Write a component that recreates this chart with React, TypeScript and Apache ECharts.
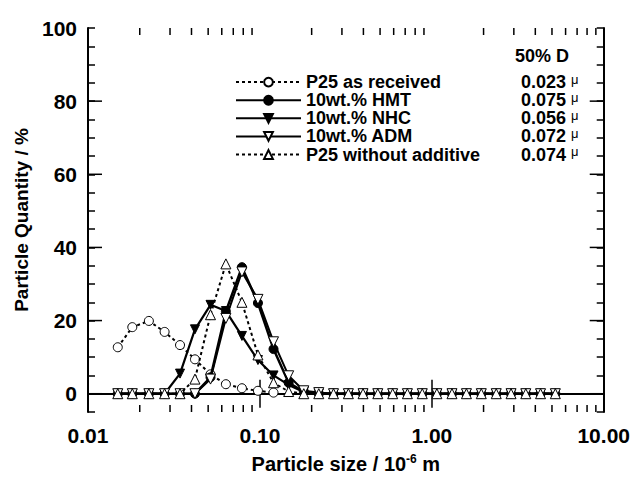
import React, { useEffect, useRef } from "react";
import * as echarts from "echarts";

// Particle size classes (10^-6 m)
const sizes = [
  0.0149, 0.0181, 0.0226, 0.0279, 0.0343, 0.0419, 0.0516, 0.0634, 0.0786, 0.0974,
  0.120, 0.147, 0.180, 0.220, 0.268, 0.327, 0.398, 0.485, 0.592, 0.721,
  0.880, 1.07, 1.31, 1.59, 1.94, 2.37, 2.89, 3.52, 4.29, 5.23,
];

const seriesNames = [
  "P25 as received",
  "10wt.% HMT",
  "10wt.% NHC",
  "10wt.% ADM",
  "P25 without additive",
];

const d50 = ["0.023", "0.075", "0.056", "0.072", "0.074"];

const asReceived = [12.7, 18.2, 19.9, 16.9, 13.3, 9.4, 5.3, 2.6, 1.5, 0.8, 0.3];
const hmt = [0, 0, 0, 0, 0, 0, 4.5, 22.5, 34.6, 24.8, 12.2, 3.0, 0.6, 0, 0, 0, 0, 0, 0, 0, 0, 0, 0, 0, 0, 0, 0, 0, 0, 0];
const nhc = [0, 0, 0, 0, 5.5, 17.6, 24.3, 22.6, 15.8, 9.2, 5.0, 2.4, 0.5, 0, 0, 0, 0, 0, 0, 0, 0, 0, 0, 0, 0, 0, 0, 0, 0, 0];
const adm = [0, 0, 0, 0, 0, 0, 4.0, 20.6, 33.3, 25.8, 14.2, 4.9, 0.8, 0.3, 0, 0, 0, 0, 0, 0, 0, 0, 0, 0, 0, 0, 0, 0, 0, 0];
const withoutAdditive = [0, 0, 0, 0, 0, 4.0, 21.6, 35.5, 25.0, 10.6, 3.0, 0.6, 0, 0, 0, 0, 0, 0, 0, 0, 0, 0, 0, 0, 0, 0, 0, 0, 0, 0];

const xMinorTicks = [
  0.02, 0.03, 0.04, 0.05, 0.06, 0.07, 0.08, 0.09,
  0.2, 0.3, 0.4, 0.5, 0.6, 0.7, 0.8, 0.9,
  2, 3, 4, 5, 6, 7, 8, 9,
];
const yMajorTicks = [0, 20, 40, 60, 80];

const Y_MIN = -5;
const Y_MAX = 100;
const FONT = "'Liberation Sans', Arial, Helvetica, sans-serif";

const pairs = (vals: number[]) => vals.map((v, i) => [sizes[i], v]);

export default function App() {
  const ref = useRef<HTMLDivElement>(null);

  useEffect(() => {
    if (!ref.current) return;
    const chart = echarts.init(ref.current, undefined, { renderer: "svg" });

    const tickStyle = { stroke: "#000", lineWidth: 1.5 };

    const option: any = {
      animation: false,
      backgroundColor: "#fff",
      textStyle: { fontFamily: FONT },
      grid: { left: 88, right: 29, top: 28, bottom: 66 },
      xAxis: [
        {
          type: "log",
          logBase: 10,
          min: 0.01,
          max: 10,
          position: "bottom",
          axisLine: { show: true, lineStyle: { color: "#000", width: 2 } },
          axisTick: { show: true, inside: true, length: 14, lineStyle: { color: "#000", width: 1.5 } },
          splitLine: { show: false },
          minorTick: { show: false },
          axisLabel: {
            margin: 13,
            color: "#000",
            fontFamily: FONT,
            fontWeight: "bold",
            fontSize: 21,
            formatter: (v: number) => Number(v).toFixed(2),
          },
          name: "{a|Particle size / 10}{s|-6}{a| m}",
          nameLocation: "middle",
          nameGap: 41,
          nameTextStyle: {
            rich: {
              a: { fontFamily: FONT, fontWeight: "bold", fontSize: 20, color: "#000", lineHeight: 22 },
              s: { fontFamily: FONT, fontWeight: "bold", fontSize: 12, color: "#000", verticalAlign: "top", lineHeight: 22, padding: [0, 0, 8, 0] },
            },
          },
        },
        {
          type: "log",
          logBase: 10,
          min: 0.01,
          max: 10,
          position: "top",
          axisLine: { show: true, lineStyle: { color: "#000", width: 2 } },
          axisTick: { show: true, inside: true, length: 14, lineStyle: { color: "#000", width: 1.5 } },
          axisLabel: { show: false },
          splitLine: { show: false },
        },
      ],
      yAxis: [
        {
          type: "value",
          min: Y_MIN,
          max: Y_MAX,
          interval: 5,
          position: "left",
          axisLine: { show: true, lineStyle: { color: "#000", width: 2 } },
          axisTick: { show: true, inside: true, length: 7, lineStyle: { color: "#000", width: 1.5 } },
          splitLine: { show: false },
          axisLabel: {
            margin: 11,
            color: "#000",
            fontFamily: FONT,
            fontWeight: "bold",
            fontSize: 21,
            formatter: (v: number) => (v % 20 === 0 && v >= 0 ? String(v) : ""),
          },
          name: "Particle Quantity / %",
          nameLocation: "middle",
          nameGap: 56,
          nameTextStyle: { fontFamily: FONT, fontWeight: "bold", fontSize: 19, color: "#000" },
        },
        {
          type: "value",
          min: Y_MIN,
          max: Y_MAX,
          interval: 5,
          position: "right",
          axisLine: { show: true, lineStyle: { color: "#000", width: 2 } },
          axisTick: { show: true, inside: true, length: 7, lineStyle: { color: "#000", width: 1.5 } },
          splitLine: { show: false },
          axisLabel: { show: false },
        },
      ],
      legend: {
        orient: "vertical",
        left: 230,
        top: 68,
        itemWidth: 65,
        itemHeight: 11,
        itemGap: 0,
        selectedMode: false,
        data: seriesNames,
        formatter: (name: string) => {
          const i = seriesNames.indexOf(name);
          return `{n|${name}}{v|${d50[i]} }{u|μ}`;
        },
        textStyle: {
          color: "#000",
          rich: {
            n: { width: 215, fontFamily: FONT, fontWeight: "bold", fontSize: 18, color: "#000", lineHeight: 18.2 },
            v: { fontFamily: FONT, fontWeight: "bold", fontSize: 18, color: "#000", lineHeight: 18.2 },
            u: { fontFamily: FONT, fontSize: 13, color: "#000", lineHeight: 18.2, verticalAlign: "top", padding: [0, 0, 4, 0] },
          },
        },
      },
      graphic: [
        {
          type: "text",
          left: 515,
          top: 47,
          style: { text: "50% D", fontFamily: FONT, fontWeight: "bold", fontSize: 18, fill: "#000" },
        },
      ],
      series: [
        {
          name: seriesNames[0],
          type: "line",
          data: pairs(asReceived),
          symbol: "circle",
          symbolSize: 9,
          itemStyle: { color: "#fff", borderColor: "#000", borderWidth: 1 },
          lineStyle: { color: "#000", width: 2, type: [3, 3] },
          z: 2,
        },
        {
          name: seriesNames[1],
          type: "line",
          data: pairs(hmt),
          symbol: "circle",
          symbolSize: 9,
          itemStyle: { color: "#000", borderColor: "#000", borderWidth: 1 },
          lineStyle: { color: "#000", width: 2.5, type: "solid" },
          z: 3,
        },
        {
          name: seriesNames[2],
          type: "line",
          data: pairs(nhc),
          symbol: "triangle",
          symbolRotate: 180,
          symbolSize: 9,
          itemStyle: { color: "#000", borderColor: "#000", borderWidth: 1 },
          lineStyle: { color: "#000", width: 2.2, type: "solid" },
          z: 4,
        },
        {
          name: seriesNames[3],
          type: "line",
          data: pairs(adm),
          symbol: "triangle",
          symbolRotate: 180,
          symbolSize: 10,
          itemStyle: { color: "#fff", borderColor: "#000", borderWidth: 1 },
          lineStyle: { color: "#000", width: 2, type: "solid" },
          z: 5,
        },
        {
          name: seriesNames[4],
          type: "line",
          data: pairs(withoutAdditive),
          symbol: "triangle",
          symbolSize: 10,
          itemStyle: { color: "#fff", borderColor: "#000", borderWidth: 1 },
          lineStyle: { color: "#000", width: 2, type: [3, 3] },
          z: 6,
        },
        {
          name: "xMinorTicks",
          type: "custom",
          silent: true,
          clip: false,
          data: xMinorTicks.map((v) => [v, 0]),
          renderItem: (_p: any, api: any) => {
            const v = api.value(0);
            const b = api.coord([v, Y_MIN]);
            const t = api.coord([v, Y_MAX]);
            return {
              type: "group",
              children: [
                { type: "line", shape: { x1: b[0], y1: b[1], x2: b[0], y2: b[1] - 7 }, style: tickStyle },
                { type: "line", shape: { x1: t[0], y1: t[1], x2: t[0], y2: t[1] + 7 }, style: tickStyle },
              ],
            };
          },
          z: 1,
        },
        {
          name: "yMajorTicks",
          type: "custom",
          silent: true,
          clip: false,
          data: yMajorTicks.map((v) => [1, v]),
          renderItem: (_p: any, api: any) => {
            const v = api.value(1);
            const l = api.coord([0.01, v]);
            const r = api.coord([10, v]);
            return {
              type: "group",
              children: [
                { type: "line", shape: { x1: l[0], y1: l[1], x2: l[0] + 14, y2: l[1] }, style: tickStyle },
                { type: "line", shape: { x1: r[0], y1: r[1], x2: r[0] - 14, y2: r[1] }, style: tickStyle },
              ],
            };
          },
          z: 1,
        },
      ],
    };

    chart.setOption(option);
    return () => chart.dispose();
  }, []);

  return (
    <div style={{ position: "absolute", left: 0, top: 0, width: 633, height: 479, background: "#fff" }}>
      <div ref={ref} style={{ width: 633, height: 479 }} />
    </div>
  );
}
